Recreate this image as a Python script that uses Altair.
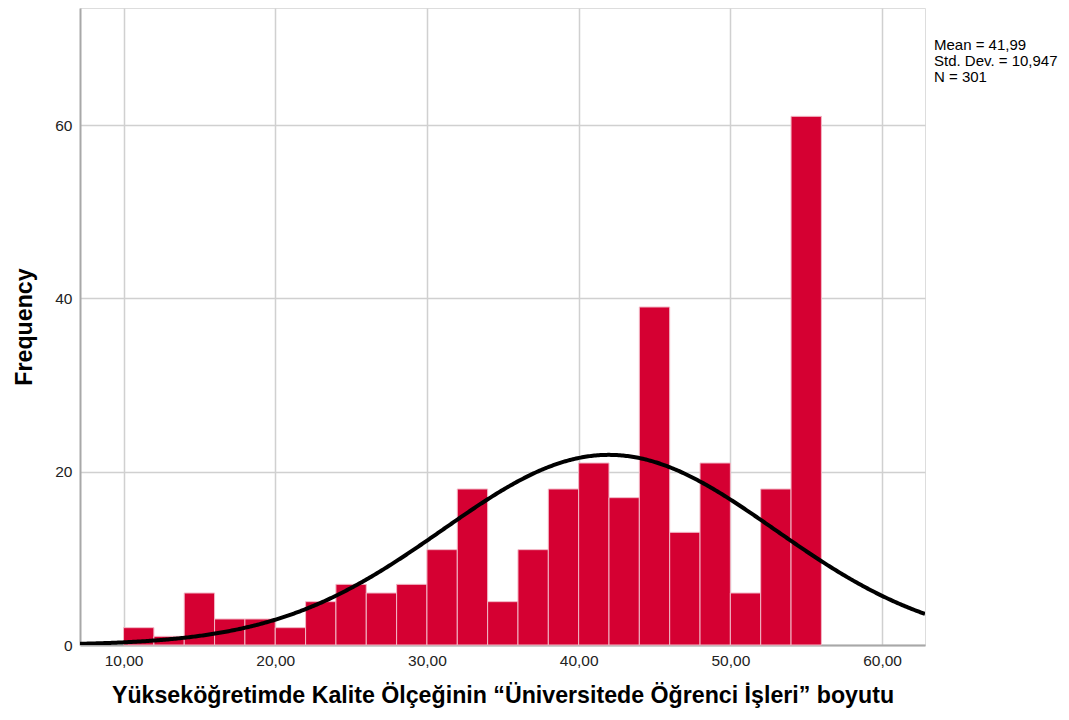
import altair as alt
import pandas as pd

# Histogram data (bin width 2)
bin_starts = [10, 12, 14, 16, 18, 20, 22, 24, 26, 28, 30, 32, 34, 36, 38, 40,
              42, 44, 46, 48, 50, 52, 54]
counts = [2, 1, 6, 3, 3, 2, 5, 7, 6, 7, 11, 18, 5, 11, 18, 21, 17, 39, 13, 21,
          6, 18, 61]
bin_width = 2

# Summary statistics shown in the chart
mean_val = 41.99
std_val = 10.947
n_val = 301
stat_lines = ["Mean = 41,99", "Std. Dev. = 10,947", "N = 301"]

x_title = "Yükseköğretimde Kalite Ölçeğinin “Üniversitede Öğrenci İşleri” boyutu"
y_title = "Frequency"
x_ticks = [10, 20, 30, 40, 50, 60]
y_ticks = [0, 20, 40, 60]

X_DOM = [7.13, 62.83]
Y_DOM = [0, 73.5]
FONT = "Liberation Sans"

hist_df = pd.DataFrame({
    "start": bin_starts,
    "end": [s + bin_width for s in bin_starts],
    "count": counts,
})

xscale = alt.Scale(domain=X_DOM, nice=False, zero=False)
yscale = alt.Scale(domain=Y_DOM, nice=False)

x_axis = alt.Axis(
    values=x_ticks, labelExpr="replace(format(datum.value, '.2f'), '.', ',')",
    title=x_title, titleFontSize=23.2, titleFontWeight="bold", titleFont=FONT,
    titleColor="#000", titlePadding=16, labelFont=FONT, labelFontSize=15.5,
    labelColor="#222", labelPadding=8, ticks=False, grid=True,
    gridColor="#d0d0d0", gridWidth=1.5, domainColor="#a8a8a8", domainWidth=2,
)
y_axis = alt.Axis(
    values=y_ticks, title=y_title, titleFontSize=23.2, titleFontWeight="bold",
    titleFont=FONT, titleColor="#000", titlePadding=18, labelFont=FONT,
    labelFontSize=15.5, labelColor="#222", labelPadding=8, ticks=False, grid=True,
    gridColor="#d0d0d0", gridWidth=1.5, domainColor="#a8a8a8", domainWidth=2,
)

bars = alt.Chart(hist_df).mark_rect(
    color="#d50032", stroke="#f2b8c6", strokeWidth=1
).encode(
    x=alt.X("start:Q", scale=xscale, axis=x_axis),
    x2="end:Q",
    y=alt.Y("count:Q", scale=yscale, axis=y_axis),
    y2=alt.datum(0),
)

curve = alt.Chart(
    alt.sequence(start=X_DOM[0], stop=X_DOM[1] + 0.1, step=0.1, as_="xv")
).transform_calculate(
    yv=f"{n_val}*{bin_width}/({std_val}*sqrt(2*PI))*exp(-0.5*pow((datum.xv-{mean_val})/{std_val},2))"
).mark_line(color="#000", strokeWidth=4, clip=True).encode(
    x=alt.X("xv:Q", scale=xscale),
    y=alt.Y("yv:Q", scale=yscale),
)

stats_df = pd.DataFrame({"line": stat_lines, "i": list(range(len(stat_lines)))})
stats = alt.Chart(stats_df).mark_text(
    align="left", baseline="middle", font=FONT, fontSize=15, color="#000"
).encode(
    x=alt.value(854),
    y=alt.Y("i:Q", scale=alt.Scale(domain=[0, 1], range=[37, 53]), axis=None),
    text="line:N",
)

chart = alt.layer(alt.layer(bars, curve), stats).resolve_scale(y="independent").properties(
    width=845, height=637,
    autosize=alt.AutoSizeParams(type="none"),
    padding={"left": 72, "top": 0, "right": 136, "bottom": 67},
).configure_view(stroke=None).configure(background="white")

chart.save("out.html", embed_options={"renderer": "svg", "actions": False})
